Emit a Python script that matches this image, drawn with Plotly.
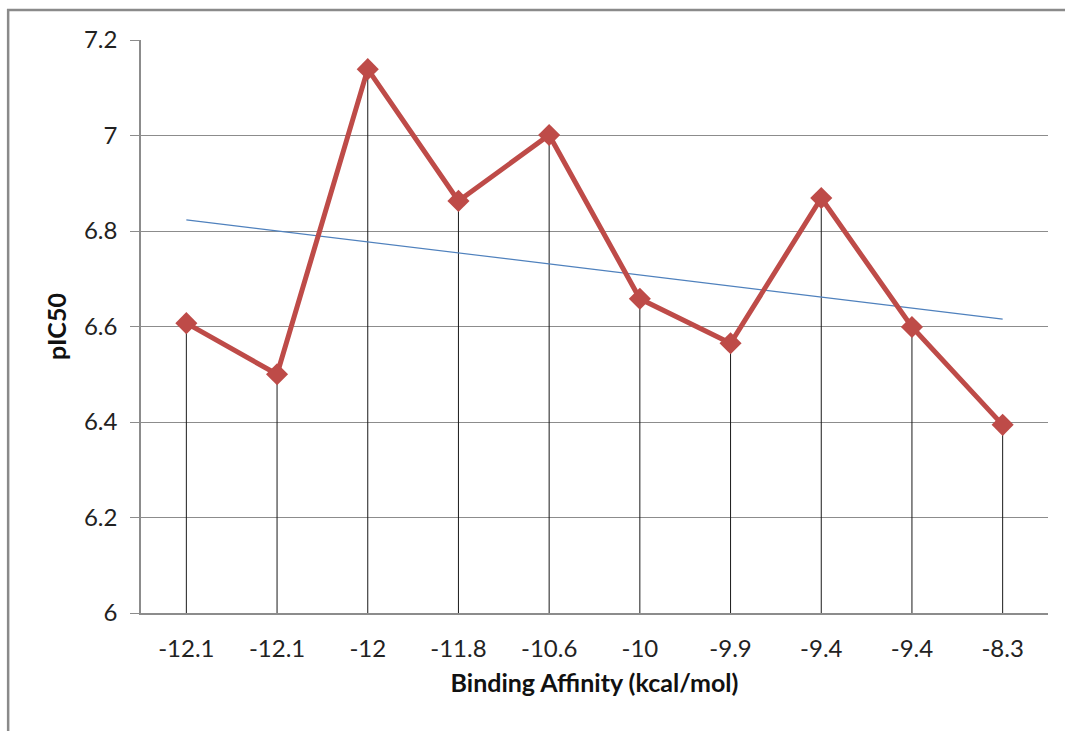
import numpy as np
import plotly.graph_objects as go

# Docking scores (category labels) and measured activities
affinity_labels = ["-12.1", "-12.1", "-12", "-11.8", "-10.6", "-10", "-9.9", "-9.4", "-9.4", "-8.3"]
pic50 = [6.607, 6.500, 7.139, 6.863, 7.001, 6.658, 6.565, 6.869, 6.599, 6.394]

y_min, y_max = 6.0, 7.2
y_ticks = [6, 6.2, 6.4, 6.6, 6.8, 7, 7.2]
y_tick_text = ["6", "6.2", "6.4", "6.6", "6.8", "7", "7.2"]

idx = np.arange(len(pic50))

# Linear trendline through the series (least squares on category position)
slope, intercept = np.polyfit(idx, pic50, 1)
trend = slope * idx + intercept

font_family = "Lato, 'Open Sans', sans-serif"

fig = go.Figure()

# Drop lines from each point down to the axis
drop_x, drop_y = [], []
for i, v in zip(idx, pic50):
    drop_x += [i, i, None]
    drop_y += [y_min, v, None]
fig.add_trace(go.Scatter(x=drop_x, y=drop_y, mode="lines",
                         line=dict(color="#1a1a1a", width=1),
                         hoverinfo="skip", showlegend=False))

# Trendline
fig.add_trace(go.Scatter(x=idx, y=trend, mode="lines",
                         line=dict(color="#4f81bd", width=1.2),
                         showlegend=False))

# Main series
fig.add_trace(go.Scatter(x=idx, y=pic50, mode="lines+markers",
                         line=dict(color="#be4b48", width=5),
                         marker=dict(symbol="diamond", size=17, color="#be4b48",
                                     line=dict(width=0)),
                         showlegend=False))

fig.update_layout(
    width=1065, height=731,
    margin=dict(l=141, r=17, t=40, b=118),
    paper_bgcolor="white", plot_bgcolor="white",
    font=dict(family=font_family, size=24, color="#222222"),
    xaxis=dict(
        range=[-0.5, len(pic50) - 0.5],
        tickmode="array", tickvals=list(idx), ticktext=affinity_labels,
        showgrid=False, zeroline=False,
        showline=True, linecolor="#8c8c8c", linewidth=1.5,
        ticks="", ticklabelstandoff=13,
        tickfont=dict(size=24, color="#222222"),
        title=dict(text="<b>Binding Affinity (kcal/mol)</b>",
                   font=dict(size=25, color="#111111"), standoff=14),
    ),
    yaxis=dict(
        range=[y_min, y_max],
        tickmode="array", tickvals=y_ticks, ticktext=y_tick_text,
        showgrid=True, gridcolor="#8c8c8c", gridwidth=1,
        zeroline=False,
        showline=True, linecolor="#8c8c8c", linewidth=1.5,
        ticks="outside", ticklen=9, tickcolor="#8c8c8c", tickwidth=1,
        ticklabelstandoff=8,
        tickfont=dict(size=24, color="#222222"),
        title=dict(text="<b>pIC50</b>", font=dict(size=25, color="#111111"),
                   standoff=10),
    ),
    shapes=[
        # Chart-area border (runs off the right and bottom edges)
        dict(type="rect", xref="paper", yref="paper",
             x0=-133 / 908, x1=1.2, y0=-0.5, y1=1 + 30 / 573,
             line=dict(color="#8a8a8a", width=2.5), fillcolor="rgba(0,0,0,0)",
             layer="below"),
    ],
)

fig.write_html("out.html")
